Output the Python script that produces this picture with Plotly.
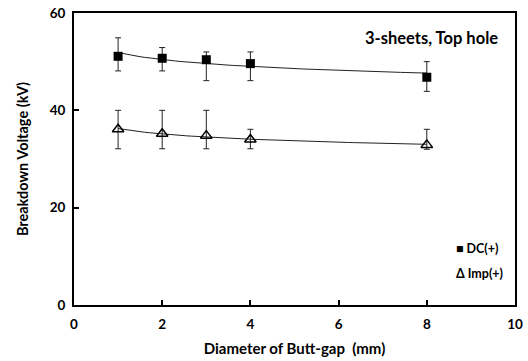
import numpy as np
import plotly.graph_objects as go

x = [1, 2, 3, 4, 8]
dc = [51.1, 50.7, 50.4, 49.6, 46.8]
dc_plus = [3.8, 2.2, 1.6, 2.4, 3.2]
dc_minus = [3.0, 2.6, 4.3, 3.5, 2.9]
imp = [36.1, 35.2, 34.8, 34.0, 32.9]
imp_plus = [3.9, 4.8, 5.2, 2.1, 3.2]
imp_minus = [4.0, 3.1, 2.7, 1.9, 0.9]
legend_labels = ["\u25A0 DC(+)", "\u0394 Imp(+)"]

font = "Lato"


def power_fit(xs, ys):
    b, loga = np.polyfit(np.log(xs), np.log(ys), 1)
    xx = np.linspace(min(xs), max(xs), 60)
    return xx, np.exp(loga) * xx ** b


fig = go.Figure()
for ys in (dc, imp):
    xx, yy = power_fit(x, ys)
    fig.add_trace(go.Scatter(x=xx, y=yy, mode="lines", line=dict(color="#222", width=1),
                             showlegend=False, hoverinfo="skip"))

fig.add_trace(go.Scatter(
    x=x, y=dc, mode="markers", name="DC(+)",
    marker=dict(symbol="square", size=9, color="black"),
    error_y=dict(type="data", symmetric=False, array=dc_plus, arrayminus=dc_minus,
                 color="#222", thickness=1, width=3),
    showlegend=False))
fig.add_trace(go.Scatter(
    x=x, y=imp, mode="markers", name="Imp(+)",
    marker=dict(symbol="triangle-up-open", size=10, color="black", line=dict(width=1.5)),
    error_y=dict(type="data", symmetric=False, array=imp_plus, arrayminus=imp_minus,
                 color="#222", thickness=1, width=3),
    showlegend=False))

axis_common = dict(showline=True, linecolor="black", linewidth=2, mirror=True,
                   ticks="inside", ticklen=5, tickwidth=1.5, tickcolor="black",
                   showgrid=False, zeroline=False, automargin=False,
                   tickfont=dict(family=font, size=13.5, color="black", weight="bold"))

annotations = [dict(text="3-sheets, Top hole", xref="paper", yref="paper",
                    x=0.965, y=0.914, xanchor="right", yanchor="middle", showarrow=False,
                    font=dict(family=font, size=16.5, color="black", weight="bold"))]
for i, lab in enumerate(legend_labels):
    annotations.append(dict(text=lab, xref="paper", yref="paper",
                            x=0.862, y=0.195 - i * 0.087, xanchor="left", yanchor="middle",
                            showarrow=False,
                            font=dict(family=font, size=12.5, color="black", weight="bold")))

fig.update_layout(
    width=528, height=361,
    margin=dict(l=74, r=13, t=13, b=56),
    paper_bgcolor="white", plot_bgcolor="white",
    font=dict(family=font, color="black"),
    showlegend=False,
    xaxis=dict(range=[0, 10], dtick=2, tick0=0, ticklabelstandoff=6,
               title=dict(text="Diameter of Butt-gap  (mm)", standoff=12,
                          font=dict(family=font, size=15, color="black", weight="bold")),
               **axis_common),
    yaxis=dict(range=[0, 60], dtick=20, tick0=0, ticklabelstandoff=4,
               title=dict(text="Breakdown Voltage (kV)", standoff=18,
                          font=dict(family=font, size=14.5, color="black", weight="bold")),
               **axis_common),
    annotations=annotations,
)

fig.write_html("out.html")
